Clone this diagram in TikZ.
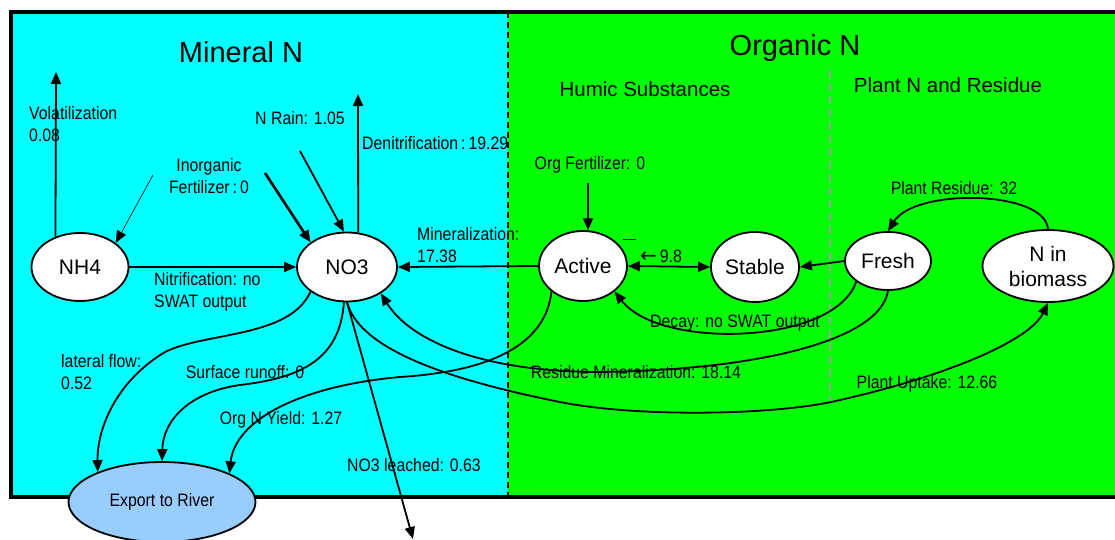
\documentclass[tikz,border=0pt]{standalone}
\usepackage{fontspec}
\setmainfont{Liberation Sans}
\newfontfamily\nf[FakeStretch=0.88]{Liberation Sans}
\newfontfamily\arrowfont{DejaVu Sans}
\usetikzlibrary{shapes.geometric,arrows.meta}
\definecolor{cyanbg}{HTML}{00FFFF}
\definecolor{greenbg}{HTML}{00FF00}
\definecolor{riverblue}{HTML}{99CCFF}
\definecolor{graydash}{HTML}{A0A0A0}
\begin{document}
\begin{tikzpicture}[x=1pt,y=-1pt,
  state/.style={ellipse,draw,line width=1.8pt,fill=white,inner sep=0pt,
    font=\fontsize{21}{25}\selectfont,align=center},
  lbl/.style={font=\nf\fontsize{18}{22}\selectfont,inner sep=0pt,align=left},
  lblc/.style={lbl,align=center},
  title/.style={font=\fontsize{29}{32}\selectfont,inner sep=0pt},
  subtitle/.style={font=\fontsize{20.5}{24}\selectfont,inner sep=0pt},
  flow/.style={line width=1.8pt,-{Triangle[length=12pt,width=10pt]}},
]
\useasboundingbox (0,0) rectangle (1115,540);
% backgrounds
\fill[cyanbg] (11,12) rectangle (508,497);
\fill[greenbg] (508,12) rectangle (1125,497);
\draw[line width=4pt] (1125,12) -- (11,12) -- (11,497) -- (1125,497);
\draw[line width=1.5pt,dash pattern=on 6pt off 4pt] (508,12) -- (508,497);
\draw[graydash,line width=1.5pt,dash pattern=on 8pt off 5pt] (830,70) -- (830,400);

% titles
\node[title] (tMin) at (241,52) {Mineral N};
\node[title] (tOrg) at (795,48) {Organic N};
\node[subtitle] (tHum) at (645,89) {Humic Substances};
\node[subtitle] (tPlant) at (948,85) {Plant N and Residue};

% states
\node[state,minimum width=97pt,minimum height=68pt] (NH4) at (80,267) {NH4};
\node[state,minimum width=100pt,minimum height=69pt] (NO3) at (347,267) {NO3};
\node[state,minimum width=88pt,minimum height=70pt] (Active) at (583,266) {Active};
\node[state,minimum width=88pt,minimum height=70pt] (Stable) at (755,267) {Stable};
\node[state,minimum width=86pt,minimum height=58pt] (Fresh) at (888,261) {Fresh};
\node[state,minimum width=131pt,minimum height=72pt] (Nb) at (1048,266) {N in\\biomass};
\node[state,fill=riverblue,minimum width=187pt,minimum height=80pt,
  font=\nf\fontsize{18}{22}\selectfont] (Export) at (162,502) {Export to River};

% free ends
\coordinate (vtop) at (56,72);
\coordinate (dtop) at (358,94);
\coordinate (rainS) at (300,151);
\coordinate (ifS1) at (265,173);
\coordinate (ifS2) at (153,175);
\coordinate (ofS) at (588,183);
\coordinate (leach) at (413,539);

% connectors
\draw[flow] (NH4.129) -- (vtop);
\draw[flow] (NO3.72) -- (dtop);
\draw[flow] (rainS) -- (NO3.95);
\draw[flow,line width=2.6pt] (ifS1) -- (NO3.146);
\draw[flow,line width=0.6pt] (ifS2) -- (NH4.34);
\draw[flow] (NH4.east) -- (NO3.west);
\draw[flow] (Active.west) -- (NO3.east);
\draw[flow] (ofS) -- (Active.82);
\draw[line width=1.8pt,{Triangle[length=12pt,width=10pt]}-{Triangle[length=12pt,width=10pt]}] (Active.east) -- (Stable.west);
\draw[line width=1pt] (623,239) -- (636,239);
\draw[flow] (Fresh.west) -- (Stable.east);
\draw[flow] (Nb.north) .. controls (1045,190) and (915,188) .. (Fresh.north);
\draw[flow] (Fresh.213) .. controls (835,345) and (660,350) .. (Active.321);
\draw[flow] (Fresh.south) .. controls (880,340) and (760,370) .. (600,372)
  .. controls (480,372) and (410,340) .. (NO3.322);
\draw[flow] (NO3.south) .. controls (360,350) and (450,380) .. (560,402)
  .. controls (640,418) and (780,415) .. (840,400)
  .. controls (950,375) and (1030,340) .. (Nb.south);
\draw[flow] (Active.219) .. controls (545,350) and (480,372) .. (400,377)
  .. controls (300,386) and (235,420) .. (Export.23);
\draw[flow] (NO3.214) .. controls (290,338) and (205,332) .. (165,352)
  .. controls (115,382) and (97,430) .. (Export.155);
\draw[flow] (NO3.265) .. controls (340,360) and (300,378) .. (240,385)
  .. controls (190,392) and (163,420) .. (Export.north);
\draw[flow] (NO3.south) -- (leach);

% labels
\node[lbl,anchor=west] (lVol) at (29,124) {Volatilization\\0.08};
\node[lblc] (lInorg) at (209,176) {Inorganic\\Fertilizer\,:\,0};
\node[lbl] (lRain) at (300,118) {N Rain: 1.05};
\node[lbl,anchor=west] (lDen) at (362,143) {Denitrification\,:\,19.29};
\node[lbl,anchor=west] (lMin) at (417,245) {Mineralization:\\17.38};
\node[lbl,anchor=west] (lNit) at (154,292) {Nitrification: no\\SWAT output};
\node[lbl] (lOrgF) at (590,165) {Org Fertilizer: 0};
\node[lbl] (lAS) at (661,256) {{\arrowfont\fontsize{20}{22}\selectfont ←}\,9.8};
\node[lbl] (lPR) at (954,188) {Plant Residue: 32};
\node[lbl] (lDecay) at (735,323) {Decay: no SWAT output};
\node[lbl] (lRes) at (636,372) {Residue Mineralization: 18.14};
\node[lbl] (lUp) at (927,384) {Plant Uptake: 12.66};
\node[lbl,anchor=west] (lLat) at (61,372) {lateral flow:\\0.52};
\node[lbl] (lSurf) at (245,372) {Surface runoff: 0};
\node[lbl] (lOrgN) at (281,420) {Org N Yield: 1.27};
\node[lbl] (lLeach) at (414,465) {NO3 leached: 0.63};
\end{tikzpicture}
\end{document}
